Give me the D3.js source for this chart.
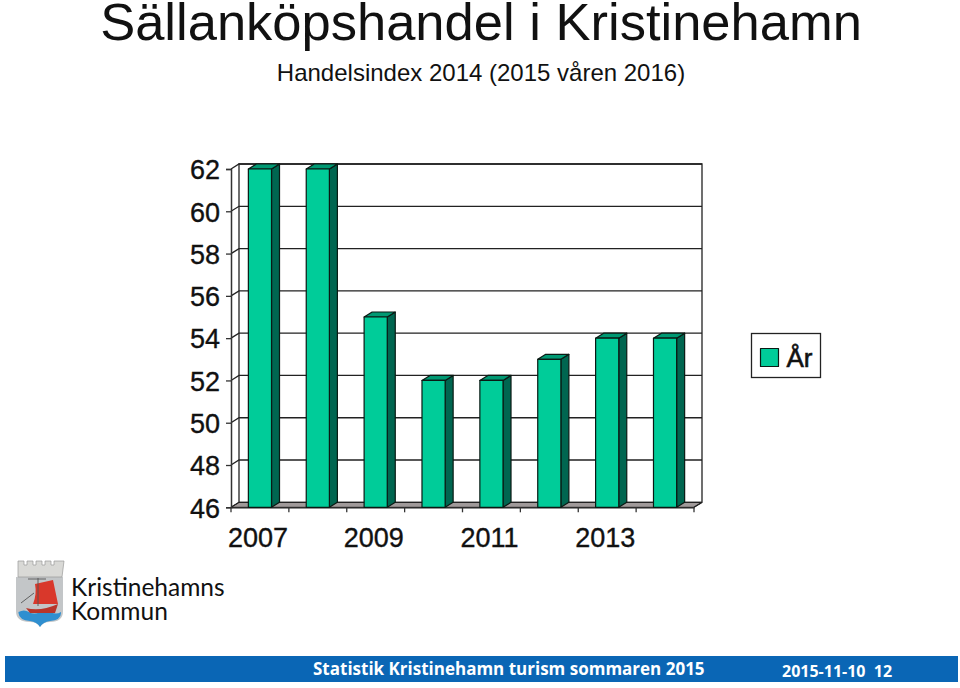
<!DOCTYPE html>
<html lang="en">
<head>
    <title>Sällanköpshandel i Kristinehamn</title>
    <script src="https://d3js.org/d3.v7.min.js"></script>
    <style>
        html, body {
            margin: 0;
            padding: 0;
            background: white;
            overflow: hidden;
        }

        text {
            font-family: "Liberation Sans", Arial, sans-serif;
            fill: #111;
        }

        .tick text {
            font-size: 27px;
            stroke: #111;
            stroke-width: 0.35px;
        }

        .bar-front {
            fill: #00cc99;
        }

        .bar-top {
            fill: #009973;
        }

        .bar-side {
            fill: #006650;
        }

        .bar-front, .bar-top, .bar-side {
            stroke: #0a1a14;
            stroke-width: 1.2;
            stroke-linejoin: round;
        }
    </style>
</head>
<body>
<div id="chart"></div>

<script>
    var years = ["2007", "2008", "2009", "2010", "2011", "2012", "2013", "2014"];
    var index = [62, 62, 55, 52, 52, 53, 54, 54];
    var yTicks = [46, 48, 50, 52, 54, 56, 58, 60, 62];
    var xLabels = ["2007", "2009", "2011", "2013"];

    var w = 960;
    var h = 688;
    var depthX = 8;
    var depthY = -5;

    var svg = d3.select("#chart")
        .append("svg")
        .attr("width", w)
        .attr("height", h)
        .style("display", "block");

    var xScale = d3.scaleBand()
        .domain(years)
        .range([231, 694])
        .paddingInner(0.6)
        .paddingOuter(0.3);

    var yScale = d3.scaleLinear()
        .domain([46, 62])
        .range([507.3, 169]);

    var x0 = xScale.range()[0];
    var x1 = xScale.range()[1];
    var y0 = yScale(46);
    var yTop = yScale(62);

    // titles
    svg.append("text")
        .attr("x", 481)
        .attr("y", 40)
        .attr("text-anchor", "middle")
        .style("font-size", "52.5px")
        .text("Sällanköpshandel i Kristinehamn");

    svg.append("text")
        .attr("x", 481)
        .attr("y", 81)
        .attr("text-anchor", "middle")
        .style("font-size", "24px")
        .text("Handelsindex 2014 (2015 våren 2016)");

    // floor and back wall
    svg.append("polygon")
        .attr("points", [
            [x0, y0],
            [x0 + depthX, y0 + depthY],
            [x1 + depthX, y0 + depthY],
            [x1, y0]
        ].join(" "))
        .attr("fill", "#a09a9a")
        .attr("stroke", "#222")
        .attr("stroke-width", 1);

    var grid = svg.append("g")
        .attr("fill", "none")
        .attr("stroke", "#222")
        .attr("stroke-width", 1.3);

    yTicks.forEach(function(t) {
        grid.append("path")
            .attr("d", d3.line()([
                [x0, yScale(t)],
                [x0 + depthX, yScale(t) + depthY],
                [x1 + depthX, yScale(t) + depthY]
            ]));
    });

    grid.append("path")
        .attr("d", d3.line()([
            [x0 + depthX, y0 + depthY],
            [x0 + depthX, yTop + depthY],
            [x1 + depthX, yTop + depthY],
            [x1 + depthX, y0 + depthY],
            [x1, y0]
        ]));

    // axes
    var yAxis = svg.append("g")
        .attr("transform", `translate(${x0}, 0)`)
        .call(d3.axisLeft(yScale).tickValues(yTicks).tickSize(5).tickPadding(6).tickFormat(d3.format("d")));

    yAxis.select(".domain").attr("stroke", "#333").attr("stroke-width", 1.5);
    yAxis.selectAll(".tick line").attr("stroke", "#333").attr("stroke-width", 1.3);
    yAxis.selectAll(".tick text").attr("dy", "0.36em");

    var xAxis = svg.append("g")
        .attr("transform", `translate(0, ${y0})`)
        .call(d3.axisBottom(xScale).tickValues(xLabels).tickSize(0).tickPadding(21));

    xAxis.select(".domain").attr("stroke", "#222").attr("stroke-width", 1.3);
    xAxis.selectAll(".tick text").attr("dx", "-2");

    // tick marks sit between the categories
    svg.append("g")
        .selectAll("line")
        .data(d3.range(years.length + 1))
        .enter()
        .append("line")
        .attr("x1", i => x0 + i * xScale.step())
        .attr("x2", i => x0 + i * xScale.step())
        .attr("y1", y0)
        .attr("y2", y0 + 5)
        .attr("stroke", "#333")
        .attr("stroke-width", 1.3);

    // bars
    var bars = svg.append("g")
        .selectAll("g")
        .data(years.map((year, i) => ({ year: year, value: index[i] })))
        .enter()
        .append("g");

    bars.append("polygon")
        .attr("class", "bar-side")
        .attr("points", d => {
            var right = xScale(d.year) + xScale.bandwidth();
            var top = yScale(d.value);
            return [
                [right, top],
                [right + depthX, top + depthY],
                [right + depthX, y0 + depthY],
                [right, y0]
            ].join(" ");
        });

    bars.append("polygon")
        .attr("class", "bar-top")
        .attr("points", d => {
            var left = xScale(d.year);
            var right = left + xScale.bandwidth();
            var top = yScale(d.value);
            return [
                [left, top],
                [left + depthX, top + depthY],
                [right + depthX, top + depthY],
                [right, top]
            ].join(" ");
        });

    bars.append("rect")
        .attr("class", "bar-front")
        .attr("x", d => xScale(d.year))
        .attr("y", d => yScale(d.value))
        .attr("width", xScale.bandwidth())
        .attr("height", d => y0 - yScale(d.value));

    // legend
    var legend = svg.append("g")
        .attr("transform", "translate(751.5, 333.5)");

    legend.append("rect")
        .attr("width", 69)
        .attr("height", 44)
        .attr("fill", "white")
        .attr("stroke", "#222")
        .attr("stroke-width", 1.3);

    legend.append("rect")
        .attr("class", "bar-front")
        .attr("x", 9)
        .attr("y", 15)
        .attr("width", 18)
        .attr("height", 18);

    legend.append("text")
        .attr("x", 35)
        .attr("y", 33)
        .style("font-size", "26px")
        .style("stroke", "#111")
        .style("stroke-width", "0.6px")
        .text("År");

    // logo
    var logo = svg.append("g");

    logo.append("path")
        .attr("d", "M16 577 V611 Q16 622 30 622 Q37 622 40 627 Q43 622 50 622 Q63 622 63 611 V577 Z")
        .attr("fill", "#c3c6c8");

    logo.append("path")
        .attr("d", "M18 561 H24 V565 H27 V561 H33 V565 H36 V561 H42 V565 H45 V561 H51 V565 H54 V561 H64 L62 577 H18 Z")
        .attr("fill", "#d9d9d6")
        .attr("stroke", "#9a9a98")
        .attr("stroke-width", 0.7);

    logo.append("path")
        .attr("d", "M18.5 612 Q24 609 29 612 T40 612 T51 612 T61 612 V613 Q61 620 50 621 Q43 622 40 627 Q37 622 30 621 Q19 620 18.5 613 Z")
        .attr("fill", "#2f8fd0");

    logo.append("path")
        .attr("d", "M35 584 L53 580 L58 604 L33 604 Q37 594 35 584 Z")
        .attr("fill", "#d9382b");

    logo.append("path")
        .attr("d", "M26 608 Q40 612 58 604 L55 613 H30 Z")
        .attr("fill", "#b8352a");

    logo.append("path")
        .attr("d", "M28 579 H46 M38 578 V606 M21 603 L34 593")
        .attr("fill", "none")
        .attr("stroke", "#555")
        .attr("stroke-width", 0.9);

    logo.append("text")
        .attr("x", 71)
        .attr("y", 596)
        .style("font-family", "Lato, sans-serif")
        .style("font-size", "24.5px")
        .text("Kristinehamns");

    logo.append("text")
        .attr("x", 71)
        .attr("y", 620)
        .style("font-family", "Lato, sans-serif")
        .style("font-size", "24.5px")
        .text("Kommun");

    // footer
    svg.append("rect")
        .attr("x", 5)
        .attr("y", 656)
        .attr("width", 953)
        .attr("height", 26)
        .attr("fill", "#0a66b5");

    svg.append("text")
        .attr("x", 313)
        .attr("y", 675)
        .style("font-family", "'Open Sans', sans-serif")
        .style("font-weight", "700")
        .style("font-size", "17px")
        .style("fill", "white")
        .text("Statistik Kristinehamn turism sommaren 2015");

    svg.append("text")
        .attr("x", 782)
        .attr("y", 677)
        .style("font-family", "'Open Sans', sans-serif")
        .style("font-weight", "700")
        .style("font-size", "16px")
        .style("fill", "white")
        .attr("xml:space", "preserve")
        .text("2015-11-10  12");
</script>
</body>
</html>
